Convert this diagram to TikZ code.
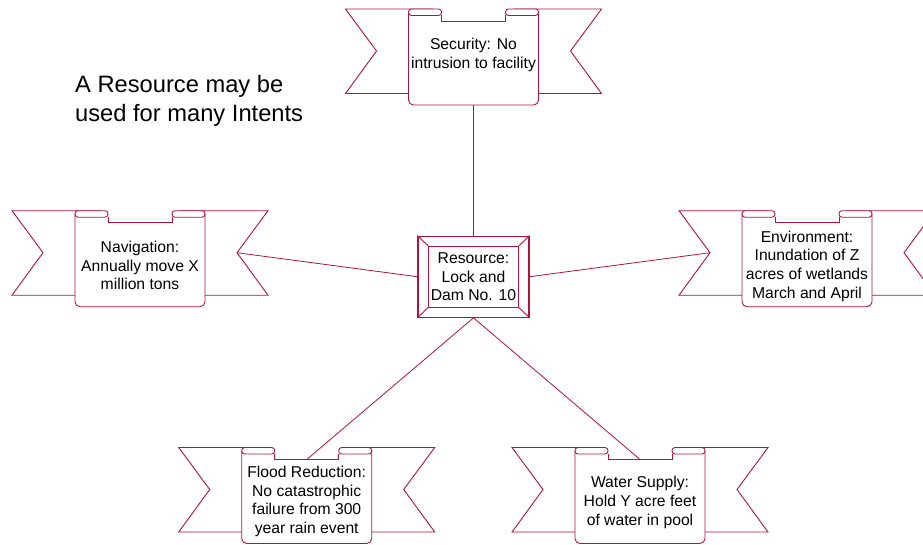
\documentclass[tikz,border=0pt]{standalone}
\usepackage{fontspec}
\setmainfont{Liberation Sans}
\usepackage{tikz}
\usepackage{xcolor}
\definecolor{scrollred}{RGB}{176,20,58}

\tikzset{
  bannerline/.style={draw=scrollred, line width=0.9pt, line join=miter},
  bannertext/.style={align=center, inner sep=0, font=\fontsize{15.7}{18.6}\selectfont},
  link/.style={draw=scrollred, line width=0.8pt},
  resframe/.style={draw=scrollred, line width=1.3pt, minimum width=111, minimum height=81, inner sep=0},
  resbox/.style={draw=scrollred, line width=0.9pt, minimum width=90, minimum height=61, inner sep=0,
    align=center, font=\fontsize{15.7}{18.3}\selectfont},
  pics/banner/.style 2 args={code={
    \path[bannerline, fill=white] (-65,84.5) -- (-128,84.5) -- (-97,42) -- (-128,0) -- (-40,0);
    \path[bannerline, fill=white] (65,84.5) -- (128,84.5) -- (97,42) -- (128,0) -- (40,0);
    \path[bannerline, fill=white, rounded corners=5] (-65,3) -- (-65,96) -- (65,96) -- (65,3);
    \draw[bannerline] (-32,6) -- (-32,12) -- (32,12) -- (32,6);
    \path[bannerline, fill=white, rounded corners=3] (-65,0) rectangle (-32,6.5);
    \path[bannerline, fill=white, rounded corners=3] (32,0) rectangle (65,6.5);
    \node[bannertext] (-text) at (0,#2) {#1};
    \coordinate (-top) at (0,12);
    \coordinate (-bottom) at (0,96);
    \coordinate (-lnotch) at (-97,42);
    \coordinate (-rnotch) at (97,42);
  }}
}

\begin{document}
\begin{tikzpicture}[x=1pt, y=-1pt]
\useasboundingbox (0,0) rectangle (923,544);
\clip (0,0) rectangle (923,544);

\node[anchor=west, align=left, inner sep=0, font=\fontsize{23.7}{29}\selectfont] (title) at (75,101)
  {A Resource may be\\used for many Intents};

% centre resource
\node[resframe] (frame) at (473.5,276.7) {};
\node[resbox] (res) at (frame) {Resource:\\Lock and\\Dam No. 10};
\foreach \c in {north west, north east, south west, south east}
  \draw[bannerline] (frame.\c) -- (res.\c);

% intents
\pic (sec) at (473.5,9) {banner={Security: No\\intrusion to facility}{46}};
\pic (nav) at (140,210.7) {banner={Navigation:\\Annually move X\\million tons}{55}};
\pic (env) at (807,210.7) {banner={Environment:\\Inundation of Z\\acres of wetlands\\March and April}{55.5}};
\pic (flood) at (306.7,447.5) {banner={Flood Reduction:\\No catastrophic\\failure from 300\\year rain event}{54}};
\pic (water) at (640,447.5) {banner={Water Supply:\\Hold Y acre feet\\of water in pool}{55}};

\draw[link] (sec-bottom) -- (frame.north);
\draw[link] (nav-rnotch) -- (frame.west);
\draw[link] (frame.east) -- (env-lnotch);
\draw[link] (frame.south) -- (flood-top);
\draw[link] (frame.south) -- (water-top);
\end{tikzpicture}
\end{document}
